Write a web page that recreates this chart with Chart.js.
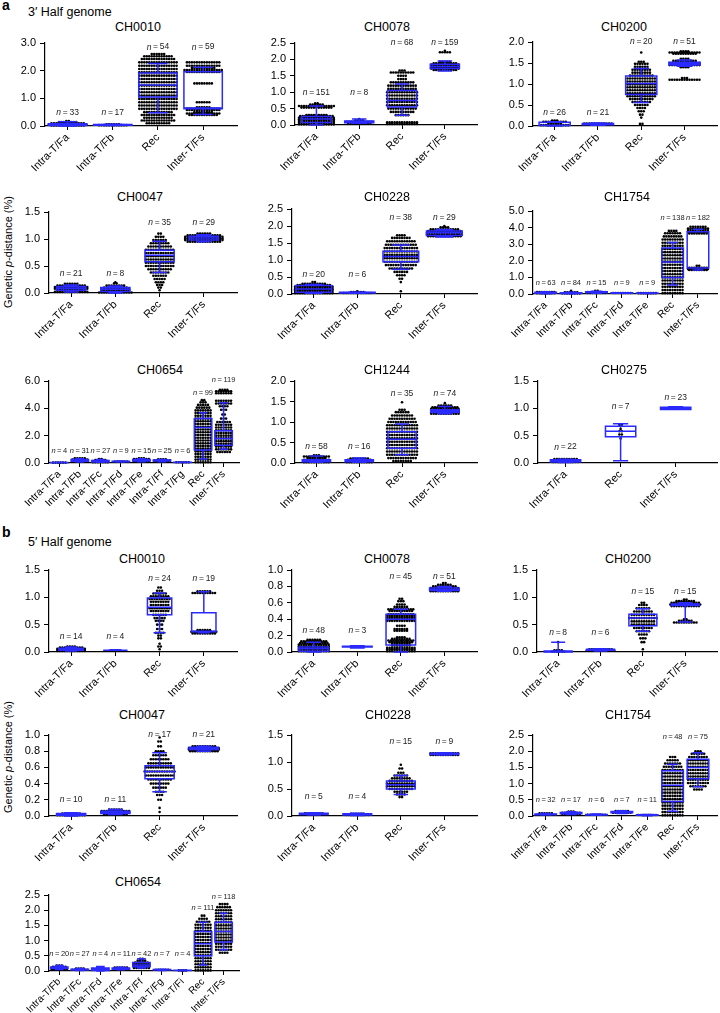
<!DOCTYPE html>
<html>
<head>
<meta charset="utf-8">
<script src="https://cdn.jsdelivr.net/npm/chart.js@4.4.1/dist/chart.umd.min.js"></script>
<style>
    body { margin: 0; background: #fff; width: 720px; height: 1013px; position: relative; overflow: hidden;
           font-family: "Liberation Sans", Arial, Helvetica, sans-serif; color: #000; }
    canvas { position: absolute; }
    .txt { position: absolute; white-space: nowrap; }
    .title { position: absolute; white-space: nowrap; font-size: 12.5px; transform: translate(-50%, -50%); }
    .ytitle { position: absolute; white-space: nowrap; font-size: 11px; transform: translate(-50%, -50%) rotate(-90deg); }
</style>
</head>
<body>
<div class="txt" style="left:2px;top:-3px;font-size:14px;font-weight:bold;">a</div>
<div class="txt" style="left:28px;top:5px;font-size:12.5px;">3′ Half genome</div>
<div class="txt" style="left:2px;top:524px;font-size:14px;font-weight:bold;">b</div>
<div class="txt" style="left:28px;top:535px;font-size:12.5px;">5′ Half genome</div>
<div class="ytitle" style="left:8px;top:252px;">Genetic <i>p</i>-distance (%)</div>
<div class="ytitle" style="left:8px;top:757px;">Genetic <i>p</i>-distance (%)</div>

<script>
// category lists
const groups4 = ['Intra-T/Fa', 'Intra-T/Fb', 'Rec', 'Inter-T/Fs'];
const groups3 = ['Intra-T/Fa', 'Rec', 'Inter-T/Fs'];
const groups7 = ['Intra-T/Fa', 'Intra-T/Fb', 'Intra-T/Fc', 'Intra-T/Fd', 'Intra-T/Fe', 'Rec', 'Inter-T/Fs'];
const groupsA654 = ['Intra-T/Fa', 'Intra-T/Fb', 'Intra-T/Fc', 'Intra-T/Fd', 'Intra-T/Fe', 'Intra-T/Ff', 'Intra-T/Fg', 'Rec', 'Inter-T/Fs'];
const groupsB654 = ['Intra-T/Fb', 'Intra-T/Fc', 'Intra-T/Fd', 'Intra-T/Fe', 'Intra-T/Ff', 'Intra-T/Fg', 'Intra-T/Fi', 'Rec', 'Inter-T/Fs'];

// ===== 3' half genome =====
// box = [min, q1, median, q3, max], dots = rows of [value, count], y = [axis max, tick step]
const a_CH0010_n = [33, 17, 54, 59];
const a_CH0010_nY = [0.47, 0.47, 2.85, 2.85];
const a_CH0010_y = [3.0, 1.0];
const a_CH0010_box = [[0.0, 0.02, 0.05, 0.08, 0.15], [0.02, 0.03, 0.04, 0.05, 0.06], [0.48, 1.05, 1.48, 1.92, 2.26], [0.42, 0.62, 0.65, 1.96, 2.12]];
const a_CH0010_dots = [
    [[0.02, 14], [0.06, 16], [0.1, 14], [0.14, 8], [0.18, 2]],
    [[0.03, 12], [0.06, 6]],
    [[0.1, 10], [0.2, 14], [0.3, 12], [0.4, 14], [0.5, 12], [0.62, 16], [0.74, 16], [0.86, 16], [0.98, 16], [1.1, 16], [1.22, 16], [1.34, 16], [1.46, 16], [1.58, 16], [1.7, 16], [1.82, 16], [1.94, 16], [2.06, 16], [2.18, 16], [2.3, 16], [2.42, 14], [2.52, 12], [2.6, 6]],
    [[0.4, 12], [0.45, 14], [0.5, 8], [0.58, 14], [0.63, 14], [0.68, 6], [0.86, 6], [1.54, 8], [1.95, 14], [2.02, 16], [2.1, 10], [2.18, 14], [2.3, 14]]
];

const a_CH0078_n = [151, 8, 68, 159];
const a_CH0078_nY = [0.98, 0.98, 2.5, 2.5];
const a_CH0078_y = [2.5, 0.5];
const a_CH0078_box = [[0.0, 0.08, 0.18, 0.26, 0.58], [0.05, 0.07, 0.09, 0.12, 0.18], [0.3, 0.55, 0.75, 1.05, 1.25], [1.65, 1.72, 1.78, 1.85, 1.95]];
const a_CH0078_dots = [
    [[0.02, 15], [0.07, 15], [0.12, 15], [0.17, 15], [0.22, 15], [0.27, 14], [0.3, 9], [0.53, 13], [0.58, 15], [0.62, 6], [0.66, 2]],
    [[0.06, 10], [0.1, 11], [0.14, 4], [0.18, 1]],
    [[0.03, 13], [0.08, 13], [0.3, 6], [0.4, 10], [0.5, 12], [0.6, 13], [0.7, 13], [0.8, 13], [0.9, 13], [1.0, 13], [1.1, 12], [1.2, 12], [1.3, 10], [1.4, 4], [1.5, 4], [1.6, 10], [1.66, 3]],
    [[1.68, 10], [1.72, 12], [1.76, 12], [1.8, 12], [1.84, 12], [1.88, 10], [1.93, 5], [2.22, 5], [2.26, 1]]
];

const a_CH0200_n = [26, 21, 20, 51];
const a_CH0200_nY = [0.31, 0.31, 2.0, 2.0];
const a_CH0200_y = [2.0, 0.5];
const a_CH0200_box = [[0.0, 0.01, 0.02, 0.09, 0.1], [0.02, 0.03, 0.04, 0.06, 0.07], [0.56, 0.75, 1.01, 1.19, 1.37], [1.42, 1.45, 1.48, 1.52, 1.57]];
const a_CH0200_dots = [
    [[0.02, 12], [0.06, 6], [0.1, 10], [0.13, 3]],
    [[0.03, 13], [0.06, 12]],
    [[0.05, 2], [0.2, 1], [0.27, 2], [0.35, 3], [0.43, 4], [0.5, 6], [0.57, 8], [0.64, 10], [0.71, 12], [0.78, 12], [0.85, 12], [0.92, 12], [0.99, 12], [1.06, 12], [1.13, 12], [1.2, 10], [1.27, 8], [1.34, 8], [1.41, 6], [1.48, 6], [1.53, 3], [1.75, 1]],
    [[1.1, 13], [1.14, 3], [1.4, 4], [1.45, 13], [1.5, 13], [1.55, 10], [1.6, 4], [1.72, 10], [1.75, 13], [1.78, 4]]
];

const a_CH0047_n = [21, 8, 35, 29];
const a_CH0047_nY = [0.35, 0.35, 1.3, 1.3];
const a_CH0047_y = [1.5, 0.5];
const a_CH0047_box = [[0.02, 0.05, 0.09, 0.12, 0.15], [0.0, 0.03, 0.07, 0.1, 0.13], [0.38, 0.58, 0.7, 0.79, 0.96], [0.95, 0.98, 1.02, 1.05, 1.08]];
const a_CH0047_dots = [
    [[0.02, 14], [0.05, 12], [0.08, 14], [0.11, 14], [0.14, 12], [0.17, 6]],
    [[0.01, 14], [0.04, 12], [0.07, 12], [0.1, 10], [0.14, 8], [0.18, 2], [0.2, 1]],
    [[0.05, 1], [0.1, 2], [0.15, 3], [0.2, 4], [0.26, 5], [0.32, 6], [0.38, 8], [0.44, 10], [0.5, 12], [0.56, 12], [0.62, 12], [0.68, 12], [0.74, 12], [0.8, 12], [0.86, 10], [0.92, 8], [0.98, 6], [1.04, 4], [1.1, 2]],
    [[0.95, 14], [0.98, 16], [1.01, 16], [1.04, 16], [1.07, 14], [1.1, 6]]
];

const a_CH0228_n = [20, 6, 38, 29];
const a_CH0228_nY = [0.56, 0.56, 2.24, 2.24];
const a_CH0228_y = [2.5, 0.5];
const a_CH0228_box = [[0.02, 0.05, 0.15, 0.25, 0.28], [0.02, 0.03, 0.04, 0.05, 0.06], [0.73, 0.95, 1.1, 1.26, 1.44], [1.68, 1.72, 1.8, 1.85, 1.9]];
const a_CH0228_dots = [
    [[0.02, 16], [0.06, 16], [0.1, 16], [0.14, 16], [0.18, 16], [0.22, 16], [0.26, 14], [0.3, 10], [0.35, 2]],
    [[0.03, 12], [0.06, 6], [0.08, 1]],
    [[0.08, 1], [0.35, 1], [0.45, 2], [0.55, 4], [0.65, 6], [0.75, 10], [0.85, 13], [0.95, 14], [1.05, 14], [1.15, 14], [1.25, 14], [1.35, 14], [1.45, 13], [1.55, 12], [1.65, 8], [1.73, 4]],
    [[1.7, 14], [1.75, 15], [1.8, 15], [1.85, 14], [1.9, 12], [1.96, 4], [2.0, 1]]
];

const a_CH1754_n = [63, 84, 15, 9, 9, 138, 182];
const a_CH1754_nY = [0.66, 0.66, 0.66, 0.66, 0.66, 4.58, 4.58];
const a_CH1754_y = [5.0, 1.0];
const a_CH1754_box = [[0.02, 0.05, 0.08, 0.1, 0.14], [0.02, 0.03, 0.05, 0.07, 0.1], [0.05, 0.08, 0.1, 0.13, 0.16], [0.04, 0.05, 0.06, 0.07, 0.08], [0.03, 0.04, 0.05, 0.06, 0.07], [0.54, 1.0, 1.93, 2.77, 3.1], [1.45, 1.56, 3.75, 3.75, 3.9]];
const a_CH1754_dots = [
    [[0.05, 8], [0.12, 8]],
    [[0.04, 8], [0.1, 6], [0.2, 1]],
    [[0.06, 8], [0.12, 8], [0.2, 2]],
    [[0.06, 8]],
    [[0.05, 8]],
    [[0.05, 9], [0.24, 9], [0.43, 9], [0.62, 9], [0.81, 9], [1.0, 9], [1.19, 9], [1.38, 9], [1.57, 9], [1.76, 9], [1.95, 9], [2.14, 9], [2.33, 9], [2.52, 9], [2.71, 9], [2.9, 9], [3.09, 9], [3.28, 9], [3.47, 8], [3.66, 7], [3.8, 4]],
    [[1.45, 8], [1.5, 9], [1.58, 8], [1.7, 2], [3.65, 8], [3.75, 9], [3.85, 9], [3.95, 9], [4.05, 7]]
];

const a_CH0654_n = [4, 31, 27, 9, 15, 25, 6, 99, 119];
const a_CH0654_nY = [0.9, 0.9, 0.9, 0.9, 0.9, 0.9, 0.9, 5.13, 6.06];
const a_CH0654_y = [6.0, 2.0];
const a_CH0654_box = [[0.01, 0.02, 0.03, 0.04, 0.05], [0.08, 0.12, 0.18, 0.25, 0.32], [0.05, 0.08, 0.12, 0.18, 0.25], [0.08, 0.1, 0.11, 0.12, 0.14], [0.1, 0.15, 0.2, 0.26, 0.32], [0.1, 0.14, 0.18, 0.22, 0.26], [0.03, 0.04, 0.05, 0.06, 0.07], [0.3, 0.95, 2.6, 3.25, 3.67], [1.0, 1.3, 1.8, 2.36, 4.4]];
const a_CH0654_dots = [
    [[0.03, 6]],
    [[0.1, 7], [0.18, 7], [0.26, 7], [0.34, 5]],
    [[0.06, 7], [0.14, 7], [0.22, 5], [0.28, 2]],
    [[0.1, 6]],
    [[0.12, 7], [0.2, 7], [0.28, 7], [0.34, 3]],
    [[0.12, 7], [0.2, 7], [0.27, 4]],
    [[0.05, 6]],
    [[0.05, 7], [0.25, 7], [0.45, 7], [0.65, 7], [0.85, 7], [1.05, 7], [1.25, 7], [1.45, 7], [1.65, 7], [1.85, 7], [2.05, 7], [2.25, 7], [2.45, 7], [2.65, 7], [2.85, 7], [3.05, 7], [3.25, 7], [3.45, 7], [3.65, 7], [3.85, 7], [4.05, 6], [4.25, 5], [4.45, 3], [4.6, 2]],
    [[0.8, 6], [1.0, 7], [1.2, 7], [1.4, 7], [1.6, 7], [1.8, 7], [2.0, 7], [2.2, 7], [2.4, 7], [2.6, 7], [2.8, 7], [3.0, 6], [3.25, 3], [3.55, 2], [3.9, 3], [4.15, 4], [4.35, 7], [4.55, 7], [5.1, 7], [5.25, 7], [5.35, 4]]
];

const a_CH1244_n = [58, 16, 35, 74];
const a_CH1244_nY = [0.41, 0.41, 1.68, 1.68];
const a_CH1244_y = [2.0, 0.5];
const a_CH1244_box = [[0.02, 0.03, 0.05, 0.08, 0.17], [0.02, 0.03, 0.05, 0.08, 0.12], [0.2, 0.36, 0.58, 0.76, 0.95], [1.2, 1.23, 1.27, 1.3, 1.38]];
const a_CH1244_dots = [
    [[0.02, 11], [0.05, 11], [0.08, 11], [0.12, 8], [0.16, 11], [0.19, 3]],
    [[0.02, 11], [0.05, 11], [0.08, 10], [0.11, 8]],
    [[0.05, 8], [0.12, 12], [0.2, 13], [0.28, 13], [0.36, 13], [0.44, 13], [0.52, 13], [0.6, 13], [0.68, 13], [0.76, 13], [0.84, 13], [0.92, 13], [1.0, 12], [1.08, 11], [1.16, 9], [1.24, 6], [1.3, 3], [1.48, 1]],
    [[1.2, 12], [1.24, 12], [1.28, 12], [1.32, 12], [1.36, 11], [1.4, 6], [1.46, 1]]
];

const a_CH0275_n = [22, 7, 23];
const a_CH0275_nY = [0.29, 1.03, 1.19];
const a_CH0275_y = [1.5, 0.5];
const a_CH0275_box = [[0.01, 0.02, 0.04, 0.06, 0.07], [0.04, 0.48, 0.58, 0.67, 0.72], [0.98, 0.98, 1.0, 1.02, 1.03]];
const a_CH0275_dots = [
    [[0.02, 11], [0.04, 11], [0.07, 10]],
    [[0.45, 1], [0.52, 2], [0.58, 2], [0.62, 1], [0.67, 1], [0.7, 2]],
    [[1.0, 10]]
];

// ===== 5' half genome =====
const b_CH0010_n = [14, 4, 24, 19];
const b_CH0010_nY = [0.28, 0.28, 1.35, 1.35];
const b_CH0010_y = [1.5, 0.5];
const b_CH0010_box = [[0.02, 0.03, 0.05, 0.07, 0.09], [0.03, 0.03, 0.03, 0.03, 0.04], [0.35, 0.68, 0.82, 0.99, 1.08], [0.35, 0.37, 0.38, 0.72, 1.1]];
const b_CH0010_dots = [
    [[0.02, 12], [0.04, 12], [0.06, 12], [0.08, 10], [0.1, 4]],
    [[0.03, 4]],
    [[0.05, 1], [0.1, 2], [0.15, 1], [0.25, 2], [0.3, 2], [0.35, 4], [0.42, 3], [0.5, 3], [0.57, 4], [0.62, 5], [0.68, 6], [0.75, 8], [0.8, 9], [0.86, 8], [0.92, 8], [0.97, 9], [1.02, 8], [1.07, 6], [1.12, 3], [1.18, 2]],
    [[0.34, 10], [0.37, 11], [0.4, 6], [1.08, 10], [1.11, 6]]
];

const b_CH0078_n = [48, 3, 45, 51];
const b_CH0078_nY = [0.26, 0.26, 0.92, 0.92];
const b_CH0078_y = [1.0, 0.2];
const b_CH0078_box = [[0.0, 0.01, 0.04, 0.06, 0.12], [0.05, 0.06, 0.065, 0.07, 0.075], [0.0, 0.085, 0.4, 0.46, 0.52], [0.74, 0.75, 0.76, 0.78, 0.8]];
const b_CH0078_dots = [
    [[0.01, 13], [0.03, 13], [0.05, 13], [0.07, 13], [0.09, 13], [0.11, 12], [0.13, 11], [0.15, 6]],
    [[0.065, 6]],
    [[0.01, 12], [0.03, 12], [0.05, 12], [0.08, 8], [0.1, 8], [0.12, 10], [0.14, 11], [0.16, 8], [0.18, 4], [0.26, 6], [0.28, 6], [0.32, 4], [0.38, 12], [0.4, 12], [0.42, 12], [0.44, 12], [0.46, 11], [0.5, 10], [0.52, 11], [0.55, 6], [0.58, 4], [0.62, 3], [0.65, 2]],
    [[0.74, 12], [0.76, 12], [0.78, 12], [0.8, 10], [0.82, 6], [0.84, 2]]
];

const b_CH0200_n = [8, 6, 15, 15];
const b_CH0200_nY = [0.35, 0.35, 1.1, 1.1];
const b_CH0200_y = [1.5, 0.5];
const b_CH0200_box = [[0.0, 0.0, 0.01, 0.02, 0.18], [0.02, 0.03, 0.04, 0.05, 0.06], [0.38, 0.48, 0.62, 0.69, 0.79], [0.55, 0.85, 0.87, 0.88, 0.9]];
const b_CH0200_dots = [
    [[0.01, 6], [0.03, 4], [0.18, 1]],
    [[0.03, 12], [0.05, 10]],
    [[0.05, 1], [0.18, 2], [0.25, 3], [0.32, 4], [0.38, 6], [0.44, 8], [0.5, 10], [0.56, 10], [0.62, 12], [0.68, 10], [0.74, 8], [0.8, 6], [0.86, 4], [0.9, 2]],
    [[0.54, 10], [0.57, 6], [0.6, 2], [0.84, 12], [0.87, 13], [0.9, 12], [0.93, 8], [0.96, 2]]
];

const b_CH0047_n = [10, 11, 17, 21];
const b_CH0047_nY = [0.2, 0.2, 1.0, 1.0];
const b_CH0047_y = [1.0, 0.2];
const b_CH0047_box = [[0.0, 0.01, 0.02, 0.03, 0.04], [0.02, 0.03, 0.05, 0.06, 0.08], [0.3, 0.46, 0.55, 0.62, 0.78], [0.8, 0.82, 0.83, 0.85, 0.86]];
const b_CH0047_dots = [
    [[0.01, 12], [0.03, 8]],
    [[0.02, 10], [0.04, 12], [0.06, 12], [0.08, 6]],
    [[0.05, 1], [0.1, 1], [0.2, 2], [0.26, 3], [0.3, 4], [0.35, 6], [0.4, 8], [0.45, 10], [0.5, 12], [0.55, 13], [0.6, 12], [0.65, 10], [0.7, 8], [0.75, 6], [0.8, 4], [0.86, 2], [0.92, 2], [0.97, 1]],
    [[0.8, 12], [0.82, 13], [0.84, 13], [0.86, 10]]
];

const b_CH0228_n = [5, 4, 15, 9];
const b_CH0228_nY = [0.35, 0.35, 1.37, 1.37];
const b_CH0228_y = [1.5, 0.5];
const b_CH0228_box = [[0.02, 0.03, 0.04, 0.05, 0.06], [0.01, 0.02, 0.03, 0.04, 0.05], [0.4, 0.5, 0.58, 0.65, 0.75], [1.13, 1.14, 1.15, 1.16, 1.17]];
const b_CH0228_dots = [
    [[0.03, 10], [0.05, 8]],
    [[0.02, 10], [0.04, 6]],
    [[0.35, 2], [0.4, 4], [0.45, 6], [0.5, 10], [0.55, 12], [0.6, 12], [0.65, 10], [0.7, 8], [0.75, 6], [0.8, 3], [0.88, 2], [0.95, 1]],
    [[1.13, 12], [1.16, 12]]
];

const b_CH1754_n = [32, 17, 6, 7, 11, 48, 75];
const b_CH1754_nY = [0.5, 0.5, 0.5, 0.5, 0.5, 2.44, 2.44];
const b_CH1754_y = [2.5, 0.5];
const b_CH1754_box = [[0.03, 0.04, 0.05, 0.06, 0.08], [0.05, 0.07, 0.09, 0.11, 0.13], [0.02, 0.03, 0.04, 0.05, 0.06], [0.08, 0.1, 0.12, 0.14, 0.16], [0.01, 0.02, 0.03, 0.04, 0.05], [0.15, 0.45, 0.95, 1.4, 1.6], [0.9, 1.15, 1.5, 1.75, 1.95]];
const b_CH1754_dots = [
    [[0.04, 8], [0.08, 6]],
    [[0.06, 8], [0.1, 8], [0.14, 3]],
    [[0.04, 8]],
    [[0.1, 8], [0.15, 6]],
    [[0.03, 8]],
    [[0.02, 9], [0.12, 9], [0.22, 9], [0.32, 9], [0.42, 9], [0.52, 9], [0.62, 9], [0.72, 9], [0.82, 9], [0.92, 9], [1.02, 9], [1.12, 9], [1.22, 9], [1.32, 9], [1.42, 9], [1.52, 8], [1.62, 7], [1.72, 5], [1.82, 3]],
    [[0.82, 4], [0.92, 7], [1.02, 9], [1.12, 9], [1.22, 9], [1.32, 9], [1.42, 9], [1.52, 9], [1.62, 9], [1.72, 9], [1.82, 8], [1.92, 6], [2.0, 3]]
];

const b_CH0654_n = [20, 27, 4, 11, 42, 7, 4, 111, 118];
const b_CH0654_nY = [0.56, 0.56, 0.56, 0.56, 0.56, 0.56, 0.56, 2.06, 2.44];
const b_CH0654_y = [2.5, 0.5];
const b_CH0654_box = [[0.05, 0.08, 0.1, 0.13, 0.18], [0.02, 0.03, 0.05, 0.06, 0.08], [0.0, 0.02, 0.05, 0.1, 0.15], [0.04, 0.06, 0.08, 0.1, 0.12], [0.1, 0.14, 0.2, 0.28, 0.4], [0.02, 0.03, 0.04, 0.05, 0.06], [0.01, 0.015, 0.02, 0.025, 0.03], [0.2, 0.5, 0.9, 1.3, 1.6], [0.7, 0.95, 1.3, 1.6, 1.9]];
const b_CH0654_dots = [
    [[0.06, 7], [0.1, 7], [0.14, 6], [0.18, 3]],
    [[0.04, 7], [0.08, 4]],
    [[0.04, 3], [0.12, 2]],
    [[0.06, 7], [0.11, 6]],
    [[0.1, 7], [0.16, 7], [0.22, 7], [0.28, 6], [0.34, 4], [0.4, 2]],
    [[0.04, 6]],
    [[0.02, 4]],
    [[0.02, 7], [0.12, 7], [0.22, 7], [0.32, 7], [0.42, 7], [0.52, 7], [0.62, 7], [0.72, 7], [0.82, 7], [0.92, 7], [1.02, 7], [1.12, 7], [1.22, 7], [1.32, 7], [1.42, 7], [1.52, 7], [1.62, 6], [1.72, 4], [1.82, 2]],
    [[0.6, 4], [0.7, 7], [0.8, 7], [0.9, 7], [1.0, 7], [1.1, 7], [1.2, 7], [1.3, 7], [1.4, 7], [1.5, 7], [1.6, 7], [1.7, 7], [1.8, 7], [1.9, 7], [2.0, 7], [2.1, 6], [2.2, 4]]
];

// layout: [column left, y-axis x, plot top, plot bottom, plot right, title x, title y, box width (category units), x label font]
const panels = [
    { title: 'CH0010', groups: groups4, n: a_CH0010_n, nY: a_CH0010_nY, y: a_CH0010_y, box: a_CH0010_box, dots: a_CH0010_dots, layout: [0, 45, 43, 126, 238, 138, 27, 0.85, 11] },
    { title: 'CH0078', groups: groups4, n: a_CH0078_n, nY: a_CH0078_nY, y: a_CH0078_y, box: a_CH0078_box, dots: a_CH0078_dots, layout: [240, 295, 43, 125, 478, 387, 27, 0.68, 11] },
    { title: 'CH0200', groups: groups4, n: a_CH0200_n, nY: a_CH0200_nY, y: a_CH0200_y, box: a_CH0200_box, dots: a_CH0200_dots, layout: [480, 533, 42, 126, 718, 624, 27, 0.72, 11] },
    { title: 'CH0047', groups: groups4, n: a_CH0047_n, nY: a_CH0047_nY, y: a_CH0047_y, box: a_CH0047_box, dots: a_CH0047_dots, layout: [0, 49, 212, 293, 238, 140, 197, 0.66, 11] },
    { title: 'CH0228', groups: groups4, n: a_CH0228_n, nY: a_CH0228_nY, y: a_CH0228_y, box: a_CH0228_box, dots: a_CH0228_dots, layout: [240, 292, 209, 294, 478, 387, 197, 0.82, 11] },
    { title: 'CH1754', groups: groups7, n: a_CH1754_n, nY: a_CH1754_nY, y: a_CH1754_y, box: a_CH1754_box, dots: a_CH1754_dots, layout: [480, 533, 211, 294, 718, 627, 197, 0.85, 10.5] },
    { title: 'CH0654', groups: groupsA654, n: a_CH0654_n, nY: a_CH0654_nY, y: a_CH0654_y, box: a_CH0654_box, dots: a_CH0654_dots, layout: [0, 49, 381, 463, 240, 160, 370, 0.85, 10.5] },
    { title: 'CH1244', groups: groups4, n: a_CH1244_n, nY: a_CH1244_nY, y: a_CH1244_y, box: a_CH1244_box, dots: a_CH1244_dots, layout: [240, 295, 381, 463, 478, 387, 370, 0.66, 11] },
    { title: 'CH0275', groups: groups3, n: a_CH0275_n, nY: a_CH0275_nY, y: a_CH0275_y, box: a_CH0275_box, dots: a_CH0275_dots, layout: [480, 538, 381, 463, 718, 624, 370, 0.55, 11] },
    { title: 'CH0010', groups: groups4, n: b_CH0010_n, nY: b_CH0010_nY, y: b_CH0010_y, box: b_CH0010_box, dots: b_CH0010_dots, layout: [0, 49, 570, 652, 238, 142, 559, 0.55, 11] },
    { title: 'CH0078', groups: groups4, n: b_CH0078_n, nY: b_CH0078_nY, y: b_CH0078_y, box: b_CH0078_box, dots: b_CH0078_dots, layout: [240, 292, 570, 652, 478, 387, 559, 0.68, 11] },
    { title: 'CH0200', groups: groups4, n: b_CH0200_n, nY: b_CH0200_nY, y: b_CH0200_y, box: b_CH0200_box, dots: b_CH0200_dots, layout: [480, 537, 570, 652, 718, 628, 559, 0.66, 11] },
    { title: 'CH0047', groups: groups4, n: b_CH0047_n, nY: b_CH0047_nY, y: b_CH0047_y, box: b_CH0047_box, dots: b_CH0047_dots, layout: [0, 49, 735, 816, 238, 142, 715, 0.66, 11] },
    { title: 'CH0228', groups: groups4, n: b_CH0228_n, nY: b_CH0228_nY, y: b_CH0228_y, box: b_CH0228_box, dots: b_CH0228_dots, layout: [240, 292, 735, 816, 478, 388, 715, 0.66, 11] },
    { title: 'CH1754', groups: groups7, n: b_CH1754_n, nY: b_CH1754_nY, y: b_CH1754_y, box: b_CH1754_box, dots: b_CH1754_dots, layout: [480, 533, 735, 816, 718, 628, 715, 0.85, 10.5] },
    { title: 'CH0654', groups: groupsB654, n: b_CH0654_n, nY: b_CH0654_nY, y: b_CH0654_y, box: b_CH0654_box, dots: b_CH0654_dots, layout: [0, 49, 895, 971, 240, 138, 882, 0.85, 10] }
];

const FONT = '"Liberation Sans", Arial, Helvetica, sans-serif';
const BOX_BLUE = '#2a2aff';
const DOT_PX = 2.5;     // horizontal spacing of dots in a row
const PAD_TOP = 20;
const X_AXIS_H = 54;

// Draws the box/whiskers over the dots, then the n= labels
function boxPlugin(p, boxW) {
    const nSize = p.groups.length > 4 ? 7.5 : 8.5;
    return {
        id: 'boxes',
        afterDatasetsDraw(chart) {
            const ctx = chart.ctx;
            const xs = chart.scales.x;
            const ys = chart.scales.y;
            const py = v => ys.getPixelForValue(v);
            ctx.save();
            ctx.strokeStyle = BOX_BLUE;
            ctx.lineWidth = 1.5;
            p.box.forEach((b, i) => {
                const [mn, q1, md, q3, mx] = b;
                const cx = xs.getPixelForValue(i);
                const hw = xs.getPixelForValue(i + boxW / 2) - cx;
                const cap = hw * 0.5;
                ctx.beginPath();
                ctx.rect(cx - hw, py(q3), 2 * hw, py(q1) - py(q3));
                ctx.moveTo(cx - hw, py(md)); ctx.lineTo(cx + hw, py(md));
                ctx.moveTo(cx, py(q3)); ctx.lineTo(cx, py(mx));
                ctx.moveTo(cx - cap, py(mx)); ctx.lineTo(cx + cap, py(mx));
                ctx.moveTo(cx, py(q1)); ctx.lineTo(cx, py(mn));
                ctx.moveTo(cx - cap, py(mn)); ctx.lineTo(cx + cap, py(mn));
                ctx.stroke();
            });

            // n labels, italic n
            ctx.fillStyle = '#222';
            ctx.textBaseline = 'middle';
            ctx.textAlign = 'left';
            p.n.forEach((val, i) => {
                const cx = xs.getPixelForValue(i);
                const yy = py(p.nY[i]);
                const rest = '\u2009=\u2009' + val;
                ctx.font = 'italic ' + nSize + 'px ' + FONT;
                const w1 = ctx.measureText('n').width;
                ctx.font = nSize + 'px ' + FONT;
                const w2 = ctx.measureText(rest).width;
                const x0 = cx - (w1 + w2) / 2;
                ctx.font = 'italic ' + nSize + 'px ' + FONT;
                ctx.fillText('n', x0, yy);
                ctx.font = nSize + 'px ' + FONT;
                ctx.fillText(rest, x0 + w1, yy);
            });
            ctx.restore();
        }
    };
}

function makePanel(p) {
    const [colLeft, axisX, top, bottom, right, tx, ty, boxW, xFont] = p.layout;
    const cTop = top - PAD_TOP;
    const cw = right - colLeft + 3;
    const ch = bottom - cTop + X_AXIS_H;

    const t = document.createElement('div');
    t.className = 'title';
    t.style.left = tx + 'px';
    t.style.top = ty + 'px';
    t.textContent = p.title;
    document.body.appendChild(t);

    const canvas = document.createElement('canvas');
    canvas.width = cw;
    canvas.height = ch;
    canvas.style.left = colLeft + 'px';
    canvas.style.top = cTop + 'px';
    canvas.style.width = cw + 'px';
    canvas.style.height = ch + 'px';
    document.body.appendChild(canvas);

    const xMin = -0.5;
    const xMax = p.groups.length - 1 + 0.75;
    const pxPerUnit = (right - axisX) / (xMax - xMin);
    const dx = DOT_PX / pxPerUnit;

    // lay each row of equal values side by side (beeswarm style)
    const points = [];
    p.dots.forEach((rows, i) => {
        rows.forEach(([v, c]) => {
            for (let j = 0; j < c; j++) {
                points.push({ x: i + (j - (c - 1) / 2) * dx, y: v });
            }
        });
    });

    new Chart(canvas, {
        type: 'scatter',
        data: {
            datasets: [{
                data: points,
                pointRadius: 1.3,
                pointBackgroundColor: '#000',
                pointBorderWidth: 0,
                clip: false
            }]
        },
        options: {
            responsive: false,
            animation: false,
            events: [],
            layout: { padding: { top: PAD_TOP, right: 3, left: 0, bottom: 0 } },
            plugins: { legend: { display: false }, tooltip: { enabled: false } },
            scales: {
                x: {
                    type: 'linear',
                    min: xMin,
                    max: xMax,
                    afterBuildTicks: s => { s.ticks = p.groups.map((g, i) => ({ value: i })); },
                    afterFit: s => { s.height = X_AXIS_H; },
                    ticks: {
                        autoSkip: false,
                        minRotation: 45,
                        maxRotation: 45,
                        padding: 1,
                        color: '#000',
                        font: { size: xFont, family: FONT },
                        callback: v => p.groups[v]
                    },
                    grid: { drawOnChartArea: false, drawTicks: true, tickLength: 4, color: '#000', lineWidth: 1 },
                    border: { display: true, color: '#000', width: 1.2 }
                },
                y: {
                    min: 0,
                    max: p.y[0],
                    afterFit: s => { s.width = axisX - colLeft; },
                    ticks: {
                        stepSize: p.y[1],
                        autoSkip: false,
                        padding: 4,
                        color: '#000',
                        font: { size: 11, family: FONT },
                        callback: v => v.toFixed(1)
                    },
                    grid: { drawOnChartArea: false, drawTicks: true, tickLength: 5, color: '#000', lineWidth: 1 },
                    border: { display: true, color: '#000', width: 1.2 }
                }
            }
        },
        plugins: [boxPlugin(p, boxW)]
    });
}

panels.forEach(makePanel);
</script>
</body>
</html>
